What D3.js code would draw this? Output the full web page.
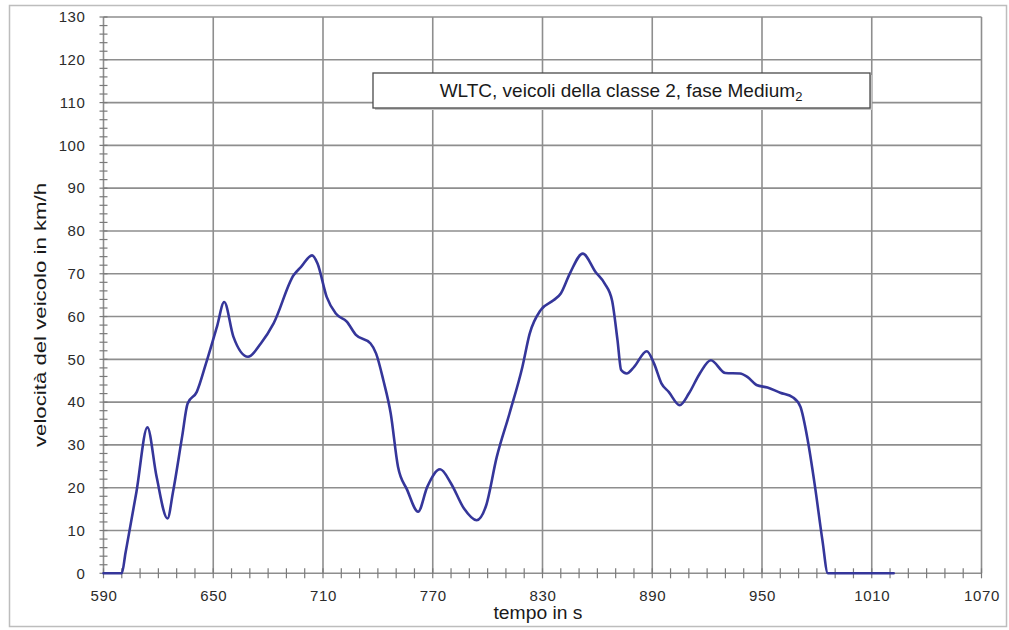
<!DOCTYPE html>
<html>
<head>
<meta charset="utf-8">
<script src="https://cdn.jsdelivr.net/npm/d3@7"></script>
<style>
  html, body { margin: 0; padding: 0; background: #fff; }
  svg { display: block; }
  text { font-family: "Liberation Sans", Arial, sans-serif; }
</style>
</head>
<body>
<svg id="chart" width="1009" height="630"></svg>
<script>
// ---- data ----
const timeSec = [590,600,602,608,614,619,625,628,633,636,641,646,652,656,661,669,676,683,694,698,
  704,707,712,717,723,728,736,739,743,747,751,756,762,767,774,780,787,794,799,805,
  812,819,823,829,836,840,845,852,859,864,868,871,873,876,880,887,891,895,899,905,
  910,916,922,930,938,942,947,953,960,967,971,975,979,983,986,1022];
const speedKmh = [0,0,4.7,19,34.1,22.6,12.8,19,32,39.7,42.4,49,57.6,63.4,55.3,50.6,53.7,58.4,69.7,71.6,
  74.3,72.4,64.6,60.7,58.8,55.7,53.7,51.4,45.1,37.4,24.9,19.5,14.4,20.2,24.3,21,15.2,12.4,15.6,27.2,
  37.4,48.2,56,61.5,63.8,65.4,70.1,74.7,70.4,67.7,63.8,54.5,47.5,46.7,48.2,51.9,49,44.4,42.4,39.3,
  42,46.7,49.8,46.8,46.7,45.9,44,43.4,42.2,41.1,38.9,31.1,20.2,7.8,0,0];
const xTicks = [590,650,710,770,830,890,950,1010,1070];
const yTicks = [0,10,20,30,40,50,60,70,80,90,100,110,120,130];
const titleText = "WLTC, veicoli della classe 2, fase Medium";
const titleSub = "2";
const xTitle = "tempo in s";
const yTitle = "velocità del veicolo in km/h";

// ---- drawing ----
const svg = d3.select("#chart");
const x = d3.scaleLinear().domain([590, 1070]).range([103.5, 981.5]);
const y = d3.scaleLinear().domain([0, 130]).range([573.3, 17]);
const gridColor = "#8e8e8e";

// outer frame
svg.append("rect").attr("x", 9.5).attr("y", 5.5).attr("width", 997).attr("height", 621)
  .attr("fill", "#fff").attr("stroke", "#bdbdbd").attr("stroke-width", 1.5);

// horizontal grid
svg.append("g").selectAll("line").data(yTicks).join("line")
  .attr("x1", x(590)).attr("x2", x(1070))
  .attr("y1", d => y(d)).attr("y2", d => y(d))
  .attr("stroke", gridColor).attr("stroke-width", 1.6);
// vertical grid
svg.append("g").selectAll("line").data(xTicks).join("line")
  .attr("x1", d => x(d)).attr("x2", d => x(d))
  .attr("y1", y(0)).attr("y2", y(130))
  .attr("stroke", gridColor).attr("stroke-width", 1.6);

// minor ticks y (every 2)
svg.append("g").selectAll("line").data(d3.range(0, 131, 2)).join("line")
  .attr("x1", x(590) - 4).attr("x2", x(590) + 4)
  .attr("y1", d => y(d)).attr("y2", d => y(d))
  .attr("stroke", "#7a7a7a").attr("stroke-width", 1.2);
// minor ticks x (every 10)
svg.append("g").selectAll("line").data(d3.range(590, 1071, 10)).join("line")
  .attr("x1", d => x(d)).attr("x2", d => x(d))
  .attr("y1", y(0) - 5).attr("y2", y(0) + 5)
  .attr("stroke", "#7a7a7a").attr("stroke-width", 1.2);

// axis labels via d3 axes (no lines)
const yAxis = svg.append("g").attr("transform", `translate(${x(590) - 18},0)`)
  .call(d3.axisLeft(y).tickValues(yTicks).tickSize(0).tickPadding(0));
yAxis.select(".domain").remove();
yAxis.selectAll("text").attr("font-size", 15).attr("fill", "#2b2b2b")
  .attr("letter-spacing", 0.6).style("font-family", "'Liberation Sans', Arial, sans-serif");

const xAxis = svg.append("g").attr("transform", `translate(0,${y(0) + 17})`)
  .call(d3.axisBottom(x).tickValues(xTicks).tickSize(0).tickPadding(0).tickFormat(d3.format("d")));
xAxis.select(".domain").remove();
xAxis.selectAll("text").attr("font-size", 15).attr("fill", "#2b2b2b")
  .attr("letter-spacing", 0.6).style("font-family", "'Liberation Sans', Arial, sans-serif");

// data line
const line = d3.line().x((d, i) => x(timeSec[i])).y(d => y(d)).curve(d3.curveMonotoneX);
svg.append("path").datum(speedKmh).attr("d", line)
  .attr("fill", "none").attr("stroke", "#35369a").attr("stroke-width", 2.6)
  .attr("stroke-linejoin", "round").attr("stroke-linecap", "round");

// title box
svg.append("rect").attr("x", 375).attr("y", 75).attr("width", 497).attr("height", 35)
  .attr("fill", "#c4c4c4");
svg.append("rect").attr("x", 373).attr("y", 73).attr("width", 497).attr("height", 35)
  .attr("fill", "#fff").attr("stroke", "#4a4a4a").attr("stroke-width", 1.3);
const tt = svg.append("text").attr("x", 621).attr("y", 97).attr("text-anchor", "middle")
  .attr("font-size", 19).attr("fill", "#1a1a1a");
tt.append("tspan").text(titleText);
tt.append("tspan").attr("font-size", 13).attr("dy", 4).text(titleSub);

// axis titles
svg.append("text").attr("x", 538).attr("y", 619).attr("text-anchor", "middle")
  .attr("font-size", 18).attr("fill", "#1a1a1a")
  .attr("textLength", 89).attr("lengthAdjust", "spacingAndGlyphs").text(xTitle);
svg.append("text").attr("transform", "translate(46,315) rotate(-90)")
  .attr("text-anchor", "middle").attr("font-size", 17).attr("fill", "#1a1a1a")
  .attr("textLength", 264).attr("lengthAdjust", "spacingAndGlyphs").text(yTitle);
</script>
</body>
</html>
